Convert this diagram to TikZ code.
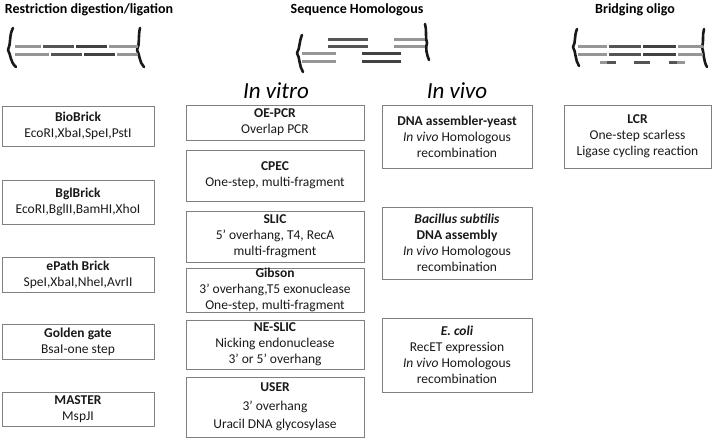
\documentclass[tikz,border=0pt]{standalone}
\usepackage{fontspec}
\setmainfont{Carlito}
\definecolor{boxgray}{RGB}{128,128,128}
\definecolor{lite}{RGB}{150,150,150}
\definecolor{darkA}{RGB}{85,85,85}
\definecolor{darkB}{RGB}{65,65,65}
\begin{document}
\begin{tikzpicture}[x=1pt,y=-1pt,
  box/.style={draw=boxgray, line width=0.8pt, align=center, inner sep=0pt,
    font=\fontsize{13.5}{16}\selectfont, text=black!90},
  colA/.style={box, minimum width=152pt},
  colB/.style={box, minimum width=178pt},
  colC/.style={box, minimum width=150pt},
  colD/.style={box, minimum width=147pt},
  head/.style={font=\fontsize{14}{16}\bfseries\selectfont, inner sep=0pt},
  sub/.style={font=\fontsize{23}{26}\itshape\selectfont, inner sep=0pt},
  brk/.style={line width=2.6pt, line cap=round, line join=round, black!90},
  lt/.style={line width=3pt, lite},
  dk/.style={line width=3pt, darkA},
  dkk/.style={line width=3pt, darkB}
]
\useasboundingbox (0,0) rectangle (720,440);

% headers
\node[head] (h1) at (89,10) {Restriction digestion/ligation};
\node[head] (h2) at (357,10) {Sequence Homologous};
\node[head] (h3) at (635,10) {Bridging oligo};
\node[sub] (invitro) at (276,91) {In vitro};
\node[sub] (invivo) at (457,91) {In vivo};

% left DNA
\draw[brk] (13,28) .. controls (9,35) and (11,44) .. (8,50) .. controls (11,55) and (10,62) .. (16,67);
\draw[brk] (140,28) .. controls (138,36) and (140,44) .. (137,50) .. controls (140,55) and (139,62) .. (144,67);
\draw[lt] (15,46) -- (41,46);
\draw[dk] (43,46) -- (74,46);
\draw[dkk] (76,46) -- (107,46);
\draw[lt] (109,46) -- (138,46);
\draw[lt] (15,54) -- (49,54);
\draw[dk] (51,54) -- (82,54);
\draw[dkk] (84,54) -- (115,54);
\draw[lt] (117,54) -- (138,54);

% middle DNA
\draw[brk] (302,35) .. controls (299,42) and (300,48) .. (297,53) .. controls (300,58) and (299,66) .. (303,72);
\draw[brk] (425,24) .. controls (427,30) and (425,38) .. (427,43) .. controls (425,48) and (427,55) .. (429,60);
\draw[lt] (302,53) -- (336,53);
\draw[lt] (302,61) -- (336,61);
\draw[dk] (328,39) -- (368,39);
\draw[dk] (328,46) -- (368,46);
\draw[dkk] (362,53) -- (401,53);
\draw[dkk] (362,61) -- (401,61);
\draw[lt] (394,39) -- (425,39);
\draw[lt] (394,46) -- (425,46);

% right DNA
\draw[brk] (577,29) .. controls (574,36) and (576,42) .. (573,47) .. controls (576,52) and (575,60) .. (579,66);
\draw[brk] (704,29) .. controls (702,36) and (704,42) .. (702,47) .. controls (704,52) and (703,60) .. (707,67);
\draw[lt] (578,46) -- (607,46);
\draw[dk] (609,46) -- (641,46);
\draw[dkk] (643,46) -- (676,46);
\draw[lt] (678,46) -- (703,46);
\draw[lt] (578,54) -- (607,54);
\draw[dk] (609,54) -- (641,54);
\draw[dkk] (643,54) -- (676,54);
\draw[lt] (678,54) -- (703,54);
\draw[lt] (600,62) -- (607,62);
\draw[dk] (607,62) -- (616,62);
\draw[dk] (634,62) -- (650,62);
\draw[dk] (669,62) -- (677,62);
\draw[lt] (677,62) -- (685,62);

% left column
\node[colA, minimum height=40pt] (biobrick) at (78,126) {\textbf{BioBrick}\\EcoRI,XbaI,SpeI,PstI};
\node[colA, minimum height=44pt] (bglbrick) at (78,202) {\textbf{BglBrick}\\EcoRI,BglII,BamHI,XhoI};
\node[colA, minimum height=35pt] (epath) at (78,274.5) {\textbf{ePath Brick}\\SpeI,XbaI,NheI,AvrII};
\node[colA, minimum height=35pt] (golden) at (78,341.5) {\textbf{Golden gate}\\BsaI-one step};
\node[colA, minimum height=34pt] (master) at (78,409) {\textbf{MASTER}\\MspJI};

% in vitro column
\node[colB, minimum height=35pt] (oepcr) at (275,122.5) {\textbf{OE-PCR}\\Overlap PCR};
\node[colB, minimum height=51pt] (cpec) at (275,175.5) {\textbf{CPEC}\\One-step, multi-fragment};
\node[colB, minimum height=51pt] (slic) at (275,236.5) {\textbf{SLIC}\\5’ overhang, T4, RecA\\multi-fragment};
\node[colB, minimum height=43pt] (gibson) at (275,290) {\textbf{Gibson}\\3’ overhang,T5 exonuclease\\One-step, multi-fragment};
\node[colB, minimum height=49pt] (neslic) at (275,344.5) {\textbf{NE-SLIC}\\Nicking endonuclease\\3’ or 5’ overhang};
\node[colB, minimum height=60pt] (user) at (275,407) {\textbf{USER}\\[3pt]3’ overhang\\[2pt]Uracil DNA glycosylase};

% in vivo column
\node[colC, minimum height=63pt] (yeast) at (457,136.5) {\textbf{DNA assembler-yeast}\\\textit{In vivo} Homologous\\recombination};
\node[colC, minimum height=72pt] (bacillus) at (457,243) {\textbf{\textit{Bacillus subtilis}}\\\textbf{DNA assembly}\\\textit{In vivo} Homologous\\recombination};
\node[colC, minimum height=74pt] (ecoli) at (457,355) {\textbf{\textit{E. coli}}\\RecET expression\\\textit{In vivo} Homologous\\recombination};

% bridging oligo
\node[colD, minimum height=63pt] (lcr) at (637.5,136.5) {\textbf{LCR}\\One-step scarless\\Ligase cycling reaction};
\end{tikzpicture}
\end{document}
